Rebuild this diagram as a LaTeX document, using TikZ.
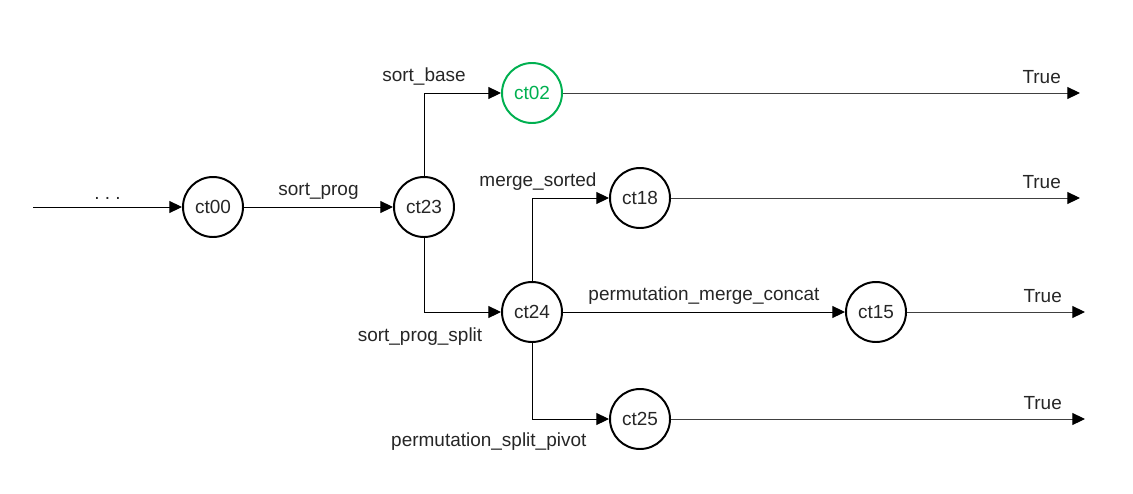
\documentclass[tikz,border=0pt]{standalone}
\usepackage{fontspec}
\setmainfont{Liberation Sans}
\usepackage{xcolor}
\usetikzlibrary{positioning,arrows.meta}

\definecolor{okgreen}{RGB}{0,176,80}
\tikzset{
  state/.style={circle, draw, line width=1.4pt, minimum size=1.5cm, inner sep=0pt},
  goal/.style={state, draw=okgreen, text=okgreen},
  edge/.style={-{Triangle[length=9pt,width=8.5pt,color=black]}, line width=0.7pt},
  done/.style={edge, draw=black!75},
  yes/.style={pos=1, anchor=south east, xshift=-0.35cm, yshift=3pt},
}

\begin{document}
\begin{tikzpicture}[on grid, font=\fontsize{13.5}{16}\selectfont, text=black!85]
    \useasboundingbox (0,0) rectangle (28.325,-12.325);
    \node[state] (ct00) at (5.325,-5.175) {ct00};
    \node[state, right=5.275cm of ct00] (ct23) {ct23};
    \node[goal, above right=2.85cm and 2.7cm of ct23] (ct02) {ct02};
    \node[state, below right=2.625cm and 2.7cm of ct23] (ct24) {ct24};
    \node[state, above right=2.85cm and 2.7cm of ct24] (ct18) {ct18};
    \node[state, below right=2.675cm and 2.7cm of ct24] (ct25) {ct25};
    \node[state, right=8.6cm of ct24] (ct15) {ct15};
    \coordinate[left=4.5cm of ct00] (in);
    \coordinate[right=13.7cm of ct02] (t02);
    \coordinate[right=11cm of ct18] (t18);
    \coordinate[right=5.225cm of ct15] (t15);
    \coordinate[right=11.125cm of ct25] (t25);
    \draw[edge] (in) -- node[above, yshift=2pt] {.~.~.} (ct00);
    \draw[edge] (ct00) -- node[above, yshift=2pt] {sort\_prog} (ct23);
    \draw[edge] (ct23) |- node[above, yshift=2pt] {sort\_base} (ct02);
    \draw[edge] (ct23) |- node[below, xshift=-0.1cm, yshift=-7.5pt] {sort\_prog\_split} (ct24);
    \draw[edge] (ct24) |- node[above, xshift=0.15cm, yshift=2pt] {merge\_sorted} (ct18);
    \draw[edge] (ct24) -- node[above, yshift=2pt] {permutation\_merge\_concat} (ct15);
    \draw[edge] (ct24) |- node[below, xshift=-1.08cm, yshift=-6pt] {permutation\_split\_pivot} (ct25);
    \draw[done] (ct02) -- node[yes] {True} (t02);
    \draw[done] (ct18) -- node[yes] {True} (t18);
    \draw[done] (ct15) -- node[yes, xshift=-0.1cm] {True} (t15);
    \draw[done] (ct25) -- node[yes, xshift=-0.1cm] {True} (t25);
\end{tikzpicture}
\end{document}
